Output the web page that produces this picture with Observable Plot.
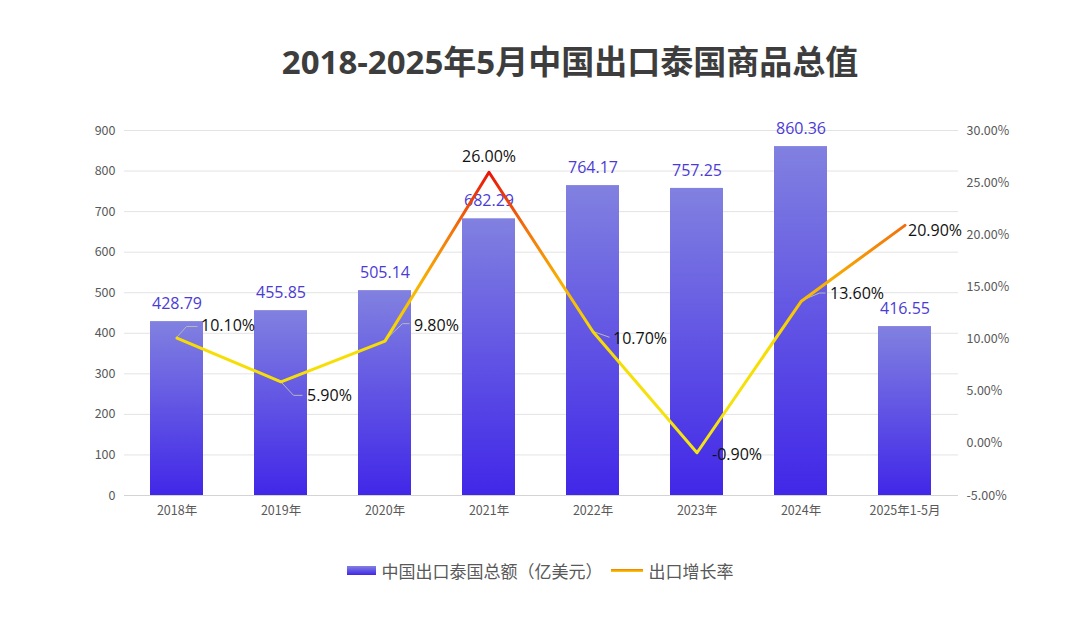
<!DOCTYPE html>
<html>
<head>
<meta charset="utf-8">
<script src="https://cdn.jsdelivr.net/npm/d3@7"></script>
<script src="https://cdn.jsdelivr.net/npm/@observablehq/plot@0.6"></script>
<style>
  body { margin: 0; background: #fff; width: 1080px; height: 624px; overflow: hidden;
         font-family: "Open Sans", "Noto Sans CJK SC", sans-serif; }
  #title { height: 100px; box-sizing: border-box; padding-top: 40px; padding-left: 60px; text-align: center;
           font-size: 33px; font-weight: 700; color: #3d3d3d; line-height: 44px;
           font-family: "Open Sans", "Noto Sans CJK SC", sans-serif; }
  #chart svg { display: block; }
  #legend { display: flex; justify-content: center; align-items: center; margin-top: 28px;
            font-size: 17px; color: #595959; font-family: "Noto Sans CJK SC", sans-serif; height: 24px; }
  .sw-bar { width: 29px; height: 9px; background: linear-gradient(#8181e0, #4127e8); margin-right: 6px; }
  .sw-line { width: 32px; height: 3px; background: linear-gradient(#f37a0c, #f8d200); margin: 0 6px 0 8px; }
</style>
</head>
<body>
<div id="title">2018-2025年5月中国出口泰国商品总值</div>
<div id="chart"></div>
<div id="legend">
  <span class="sw-bar"></span><span>中国出口泰国总额（亿美元）</span>
  <span class="sw-line"></span><span>出口增长率</span>
</div>
<script>
// Annual exports from China to Thailand (100 million USD) and year-on-year growth (%)
const years = ["2018年", "2019年", "2020年", "2021年", "2022年", "2023年", "2024年", "2025年1-5月"];
const totals = [428.79, 455.85, 505.14, 682.29, 764.17, 757.25, 860.36, 416.55];
const growth = [10.1, 5.9, 9.8, 26.0, 10.7, -0.9, 13.6, 20.9];
const leftTicks = [0, 100, 200, 300, 400, 500, 600, 700, 800, 900];
const rightTicks = [-5, 0, 5, 10, 15, 20, 25, 30];

// The growth series shares the y scale: -5%..30% is mapped onto 0..900
const rateMin = -5, rateMax = 30, yMax = 900;
const toY = r => (r - rateMin) * yMax / (rateMax - rateMin);
const fromY = v => v * (rateMax - rateMin) / yMax + rateMin;

const rows = years.map((year, i) => ({year, total: totals[i], rate: growth[i], ry: toY(growth[i])}));

// Pixel placement of the growth labels and their leader lines (relative to each point)
const rateLabelLayout = [
  {dx: 24, dy: -12, anchor: "start", leader: [[10, -11], [21, -11]]},
  {dx: 26, dy: 14, anchor: "start", leader: [[13, 14], [22, 14]]},
  {dx: 29, dy: -15, anchor: "start", leader: [[18, -17], [25, -17]]},
  {dx: 0, dy: -15, anchor: "middle", leader: null},
  {dx: 20, dy: 7, anchor: "start", leader: [[17, 6]]},
  {dx: 15, dy: 2, anchor: "start", leader: null},
  {dx: 29, dy: -8, anchor: "start", leader: [[19, -8], [25, -8]]},
  {dx: 3, dy: 5, anchor: "start", leader: null}
];

const defs = () => {
  const d = d3.create("svg:defs");
  const bar = d.append("linearGradient").attr("id", "barFill")
    .attr("x1", 0).attr("y1", 0).attr("x2", 0).attr("y2", 1);
  bar.append("stop").attr("offset", 0).attr("stop-color", "#8181e0");
  bar.append("stop").attr("offset", 1).attr("stop-color", "#4127e8");
  const line = d.append("linearGradient").attr("id", "rateStroke")
    .attr("x1", 0).attr("y1", 1).attr("x2", 0).attr("y2", 0);
  [[0, "#f3e514"], [0.42, "#f7dc00"], [0.6, "#f8b200"], [0.78, "#f37a0c"], [1, "#e8140a"]]
    .forEach(([o, c]) => line.append("stop").attr("offset", o).attr("stop-color", c));
  return d.node();
};

// Thin gray leader lines joining growth points to their labels
const leaders = (index, scales) => {
  const x = scales.x, y = scales.y;
  const bw = x.bandwidth ? x.bandwidth() / 2 : 0;
  const g = d3.create("svg:g").attr("fill", "none").attr("stroke", "#b8b8b8").attr("stroke-width", 1);
  rows.forEach((r, i) => {
    const lay = rateLabelLayout[i];
    if (!lay.leader) return;
    const px = x(r.year) + bw, py = y(r.ry);
    const pts = [[px, py], ...lay.leader.map(([a, b]) => [px + a, py + b])];
    g.append("path").attr("d", d3.line()(pts));
  });
  return g.node();
};

const rateLabels = rows.map((r, i) => Plot.text([r], {
  x: "year", y: "ry", text: d => d.rate.toFixed(2) + "%",
  dx: rateLabelLayout[i].dx, dy: rateLabelLayout[i].dy, textAnchor: rateLabelLayout[i].anchor,
  fill: "#111", fontSize: 16, fontFamily: "Open Sans, Noto Sans CJK SC, sans-serif"
}));

const chart = Plot.plot({
  width: 1080,
  height: 430,
  marginTop: 30,
  marginBottom: 35,
  marginLeft: 124,
  marginRight: 122,
  style: {fontFamily: "Noto Sans CJK SC, sans-serif", color: "#595959", background: "transparent"},
  x: {domain: years, paddingInner: 0.49, paddingOuter: 0.245, label: null},
  y: {domain: [0, yMax], label: null},
  marks: [
    defs,
    Plot.gridY(leftTicks, {stroke: "#e3e3e3", strokeOpacity: 1}),
    Plot.ruleY([0], {stroke: "#d4d4d4"}),
    Plot.barY(rows, {x: "year", y: "total", fill: "url(#barFill)"}),
    Plot.axisY(leftTicks, {anchor: "left", tickSize: 0, tickPadding: 9, fontSize: 12.5, label: null}),
    Plot.axisY(rightTicks.map(toY), {anchor: "right", tickSize: 0, tickPadding: 8, fontSize: 12.5, label: null,
      tickFormat: v => Math.round(fromY(v)).toFixed(2) + "%"}),
    Plot.axisX({tickSize: 0, tickPadding: 11, fontSize: 12.5, label: null}),
    Plot.text(rows, {x: "year", y: "total", text: d => d.total.toFixed(2), dy: -18,
      fill: "#4b3bd6", fontSize: 16, fontFamily: "Open Sans, Noto Sans CJK SC, sans-serif"}),
    leaders,
    Plot.line(rows, {x: "year", y: "ry", stroke: "url(#rateStroke)", strokeWidth: 3}),
    ...rateLabels
  ]
});
document.getElementById("chart").appendChild(chart);
</script>
</body>
</html>
